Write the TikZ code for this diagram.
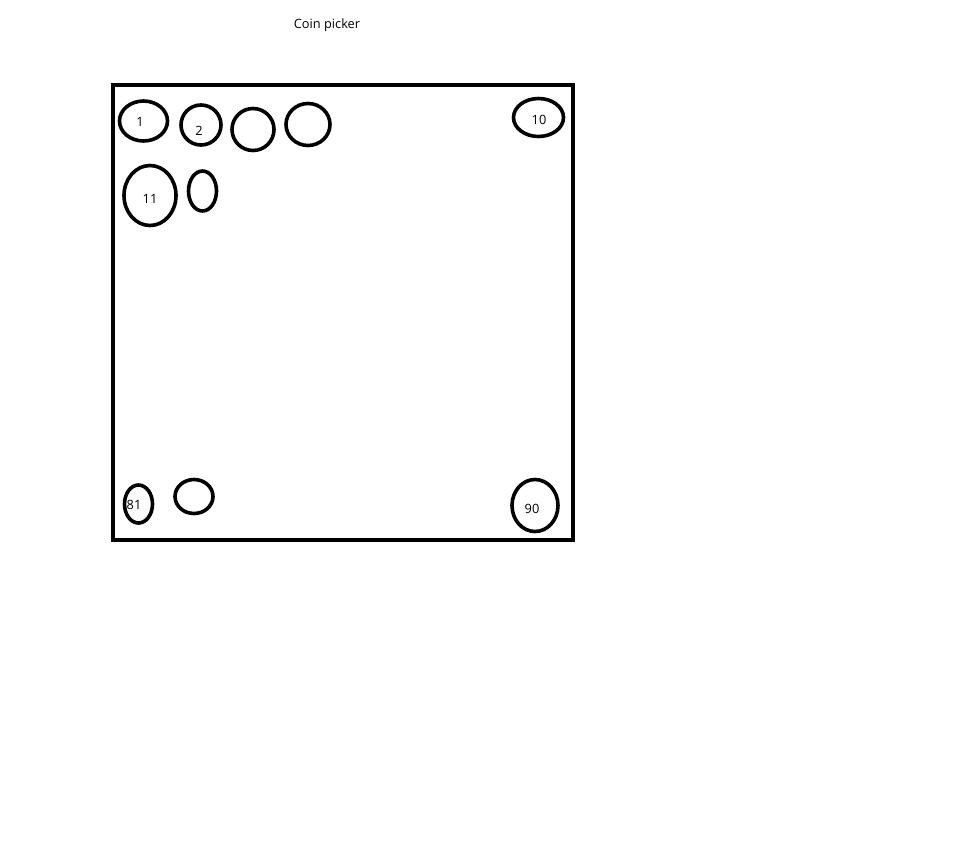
\documentclass[tikz,border=0pt]{standalone}
\usepackage{fontspec}
\setmainfont{Open Sans}
\begin{document}
\begin{tikzpicture}[x=0.75pt,y=-0.75pt,
  coin/.style={draw=black,line width=2.7pt},
  lbl/.style={inner sep=0pt,font=\fontsize{9.6}{11}\selectfont,text=black}]
\useasboundingbox[fill=white] (0,0) rectangle (974,853);
\node[lbl] (title) at (327,25) {Coin picker};
\draw[line width=3pt] (112.5,85) rectangle (573,540);
% coins
\draw[coin] (143.5,121) ellipse [x radius=24, y radius=20];
\draw[coin] (201,125) ellipse [x radius=20, y radius=20];
\draw[coin] (253,129.5) ellipse [x radius=21, y radius=21];
\draw[coin] (308,124.5) ellipse [x radius=22, y radius=21];
\draw[coin] (150,195.5) ellipse [x radius=26, y radius=30];
\draw[coin] (202.5,191) ellipse [x radius=14, y radius=20];
\draw[coin] (538.5,117.5) ellipse [x radius=25, y radius=19];
\draw[coin] (138.5,504) ellipse [x radius=14, y radius=19];
\draw[coin] (194,496.5) ellipse [x radius=19, y radius=17];
\draw[coin] (535,505.5) ellipse [x radius=23, y radius=26];
% labels
\node[lbl] (l1) at (140,122) {1};
\node[lbl] (l2) at (199,131) {2};
\node[lbl] (l11) at (150,199) {11};
\node[lbl] (l10) at (539,120) {10};
\node[lbl] (l81) at (134,505) {81};
\node[lbl] (l90) at (532,509) {90};
\end{tikzpicture}
\end{document}
